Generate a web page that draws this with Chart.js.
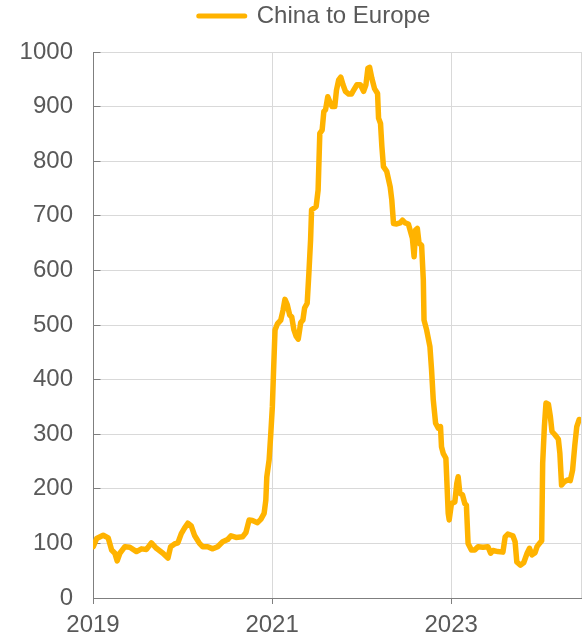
<!DOCTYPE html>
<html>
<head>
<meta charset="utf-8">
<title>China to Europe</title>
<script src="https://cdn.jsdelivr.net/npm/chart.js@4.4.1/dist/chart.umd.min.js"></script>
<style>
  html, body { margin: 0; padding: 0; background: #fff; }
  #wrap { width: 588px; height: 637px; position: relative; }
</style>
</head>
<body>
<div id="wrap"><canvas id="chart"></canvas></div>
<script>
// weekly readings, x as decimal year
const years = [
  2019.003, 2019.041, 2019.114, 2019.170, 2019.208, 2019.244, 2019.270, 2019.300, 2019.356, 2019.411,
  2019.486, 2019.541, 2019.597, 2019.652, 2019.708, 2019.781, 2019.837, 2019.867, 2019.911, 2019.948, 2019.986,
  2020.022, 2020.059, 2020.097, 2020.133, 2020.189, 2020.226, 2020.281, 2020.337, 2020.392, 2020.448,
  2020.503, 2020.541, 2020.597, 2020.670, 2020.708, 2020.744, 2020.781, 2020.837, 2020.874, 2020.911,
  2020.930, 2020.941, 2020.967, 2020.986,
  2021.003, 2021.017, 2021.033, 2021.059, 2021.097, 2021.122, 2021.144, 2021.170, 2021.197, 2021.219,
  2021.244, 2021.270, 2021.292, 2021.308, 2021.319, 2021.344, 2021.363, 2021.392, 2021.411, 2021.430,
  2021.441, 2021.467, 2021.492, 2021.514, 2021.533, 2021.559, 2021.578, 2021.597, 2021.622, 2021.644,
  2021.670, 2021.700, 2021.719, 2021.744, 2021.767, 2021.792, 2021.819, 2021.856, 2021.886, 2021.911,
  2021.948, 2021.986,
  2022.022, 2022.048, 2022.070, 2022.089, 2022.114, 2022.144, 2022.178, 2022.189, 2022.211, 2022.226,
  2022.244, 2022.281, 2022.319, 2022.337, 2022.356, 2022.392, 2022.430, 2022.456, 2022.486, 2022.522,
  2022.541, 2022.567, 2022.586, 2022.603, 2022.622, 2022.641, 2022.670, 2022.689, 2022.697, 2022.726,
  2022.763, 2022.781, 2022.800, 2022.826, 2022.856, 2022.881, 2022.892, 2022.911, 2022.941, 2022.967,
  2022.978,
  2023.003, 2023.041, 2023.063, 2023.078, 2023.097, 2023.126, 2023.152, 2023.170, 2023.189, 2023.226,
  2023.263, 2023.300, 2023.356, 2023.411, 2023.441, 2023.467, 2023.522, 2023.578, 2023.603, 2023.633,
  2023.689, 2023.714, 2023.733, 2023.774, 2023.811, 2023.848, 2023.874, 2023.903, 2023.937, 2023.959,
  2023.986,
  2024.011, 2024.022, 2024.041, 2024.059, 2024.086, 2024.108, 2024.126, 2024.159, 2024.197, 2024.214,
  2024.233, 2024.263, 2024.300, 2024.330, 2024.356, 2024.381, 2024.403, 2024.430,
];

const rates = [
  94, 109, 115, 110, 88, 82, 68, 82, 94, 93,
  85, 90, 89, 101, 91, 82, 73, 94, 99, 101, 118,
  128, 137, 132, 115, 100, 94, 94, 90, 94, 103,
  107, 114, 111, 112, 120, 143, 142, 138, 144, 155,
  179, 222, 253, 302,
  350, 418, 491, 502, 509, 527, 547, 537, 518, 515,
  491, 479, 474, 491, 504, 509, 531, 540, 595, 656,
  711, 714, 717, 747, 851, 857, 891, 894, 918, 909,
  900, 900, 930, 949, 954, 940, 928, 923, 923, 930,
  940, 940,
  928, 940, 970, 972, 952, 933, 924, 879, 869, 827,
  790, 781, 753, 729, 686, 685, 687, 692, 687, 685,
  674, 659, 625, 674, 677, 650, 646, 582, 509, 491,
  460, 418, 363, 320, 311, 314, 277, 265, 256, 155,
  143,
  173, 176, 210, 222, 192, 189, 173, 170, 100, 88,
  88, 94, 93, 94, 82, 87, 85, 84, 112, 117,
  114, 103, 66, 60, 65, 82, 91, 79, 83, 94,
  100,
  105, 247, 314, 357, 355, 332, 305, 299, 291, 265,
  207, 213, 216, 215, 234, 280, 314, 327,
];

const seriesLabel = "China to Europe";
const yearTicks = [2019, 2021, 2023];
const X_MIN = 2019;
const X_MAX = 2024.45;

const COLORS = {
  line: "#FFB300",
  axis: "#7F7F7F",
  grid: "#D9D9D9",
  text: "#595959",
};
const FONT = { family: "'Liberation Sans', Arial, sans-serif", size: 24 };

const align = (p) => Math.round(p - 0.5) + 0.5;

// y ticks point into the plot (Excel style); Chart.js only draws them outside
const innerTicks = {
  id: "innerTicks",
  beforeDatasetsDraw(chart) {
    const { ctx, chartArea } = chart;
    const y = chart.scales.y;
    const left = align(chartArea.left);
    ctx.save();
    ctx.strokeStyle = COLORS.axis;
    ctx.lineWidth = 1;
    ctx.beginPath();
    y.ticks.forEach((t) => {
      const py = align(y.getPixelForValue(t.value));
      ctx.moveTo(left, py);
      ctx.lineTo(left + 7, py);
    });
    ctx.stroke();
    ctx.restore();
  },
};

// legend sits higher and a little right of centre in the original
const legendShift = {
  id: "legendShift",
  afterLayout(chart) {
    const lg = chart.legend;
    lg.left += 23;
    lg.right += 23;
    lg.top -= 14;
    lg.bottom -= 14;
  },
};

new Chart(document.getElementById("chart"), {
  type: "line",
  data: {
    datasets: [
      {
        label: seriesLabel,
        data: years.map((x, i) => ({ x, y: rates[i] })),
        borderColor: COLORS.line,
        backgroundColor: COLORS.line,
        borderWidth: 5.5,
        borderJoinStyle: "round",
        borderCapStyle: "round",
        pointRadius: 0,
        pointHoverRadius: 0,
        tension: 0,
        fill: false,
      },
    ],
  },
  options: {
    responsive: true,
    maintainAspectRatio: false,
    devicePixelRatio: 1,
    animation: false,
    layout: { padding: { right: 5 } },
    plugins: {
      tooltip: { enabled: false },
      legend: {
        position: "top",
        labels: {
          usePointStyle: true,
          pointStyle: "line",
          pointStyleWidth: 46,
          padding: 3,
          color: COLORS.text,
          font: FONT,
          generateLabels: (chart) =>
            Chart.defaults.plugins.legend.labels.generateLabels(chart).map((l) => ({
              ...l,
              lineWidth: 5,
              lineCap: "round",
              strokeStyle: COLORS.line,
            })),
        },
      },
    },
    scales: {
      x: {
        type: "linear",
        min: X_MIN,
        max: X_MAX,
        afterBuildTicks: (s) => {
          s.ticks = [...yearTicks, X_MAX].map((v) => ({ value: v }));
        },
        ticks: {
          autoSkip: false,
          maxRotation: 0,
          padding: 7,
          color: COLORS.text,
          font: FONT,
          callback: (v) => (yearTicks.includes(v) ? String(v) : ""),
        },
        grid: {
          color: COLORS.grid,
          tickLength: 6,
          tickColor: (ctx) =>
            ctx.tick && ctx.tick.value === X_MAX ? "rgba(0,0,0,0)" : COLORS.axis,
        },
        border: { color: COLORS.axis },
        afterFit: (s) => {
          s.height = 39;
        },
      },
      y: {
        min: 0,
        max: 1000,
        ticks: {
          stepSize: 100,
          padding: 20,
          color: COLORS.text,
          font: FONT,
          callback: (v) => String(v),
        },
        grid: { color: COLORS.grid, drawTicks: false },
        border: { color: COLORS.axis },
        afterFit: (s) => {
          s.width = 93;
          s.paddingTop = 52;
        },
      },
    },
  },
  plugins: [innerTicks, legendShift],
});
</script>
</body>
</html>
